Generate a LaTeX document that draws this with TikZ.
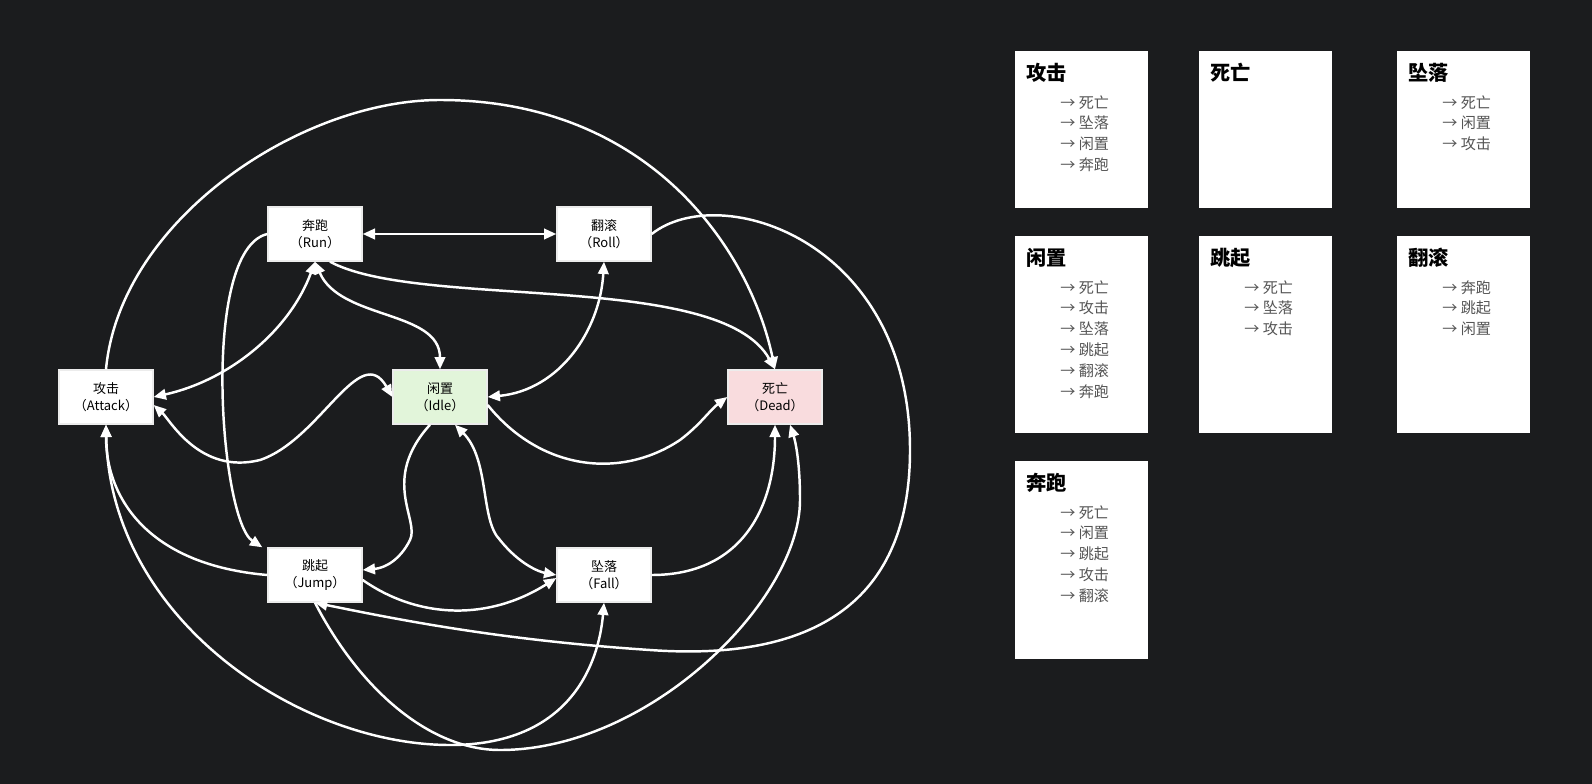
\documentclass[tikz,border=0pt]{standalone}
\usepackage{fontspec}
\setmainfont{Noto Sans CJK SC}
\usetikzlibrary{arrows.meta}
\definecolor{bg}{HTML}{1B1C1E}
\definecolor{idlec}{HTML}{E2F5DA}
\definecolor{deadc}{HTML}{F9DCDE}
\definecolor{itemc}{HTML}{555555}
\begin{document}
\begin{tikzpicture}[x=0.02cm,y=-0.02cm,
  st/.style={draw=white!85!gray,line width=0.8pt,fill=white,minimum width=94*0.02cm,minimum height=54*0.02cm,inner sep=0pt,align=center,font=\fontsize{7.4pt}{9.5pt}\selectfont,text=black},
  e/.style={draw=white,line width=1.4pt,-{Triangle[length=7pt,width=6pt]}},
  ee/.style={draw=white,line width=1.4pt,{Triangle[length=7pt,width=6pt]}-{Triangle[length=7pt,width=6pt]}},
  card/.style={fill=white,draw=none},
  ttl/.style={anchor=north west,font=\fontsize{11.5pt}{13pt}\selectfont\bfseries,text=black,inner sep=0pt},
  itm/.style={anchor=north west,font=\fontsize{8.6pt}{11.9pt}\selectfont,text=itemc,inner sep=0pt,align=left}]
\fill[bg] (0,0) rectangle (1592,784);
\useasboundingbox (0,0) rectangle (1592,784);
\node[st] (run) at (315,234) {奔跑\\（Run）};
\node[st] (roll) at (604,234) {翻滚\\（Roll）};
\node[st] (atk) at (106,397) {攻击\\（Attack）};
\node[st,fill=idlec] (idle) at (440,397) {闲置\\（Idle）};
\node[st,fill=deadc] (dead) at (775,397) {死亡\\（Dead）};
\node[st] (jump) at (315,575) {跳起\\（Jump）};
\node[st] (fall) at (604,575) {坠落\\（Fall）};
% edges
\draw[ee] (run.east) -- (roll.west);
\draw[ee] (run.south) .. controls (290,330) and (230,380) .. (atk.east);
\draw[ee] (run.south) .. controls (340,320) and (440,310) .. (idle.north);
\draw[e] ([xshift=15*0.02cm]run.south) .. controls (420,310) and (720,270) .. (dead.north);
\draw[e] (run.west) .. controls (200,250) and (220,520) .. ([xshift=-0.1cm]jump.north west);
\draw[ee] (idle.west) .. controls (360,340) and (320,440) .. (260,460) .. controls (200,475) and (170,420) .. (atk.east|-0,405);
\draw[e] (atk.north) .. controls (120,220) and (300,100) .. (440,100) .. controls (650,100) and (750,250) .. (dead.north);
\draw[e] (jump.west) .. controls (150,565) and (106,500) .. (atk.south);
\draw[ee] (atk.south) .. controls (110,620) and (300,745) .. (450,745) .. controls (580,745) and (600,650) .. (fall.south);
\draw[ee] (roll.south) .. controls (600,330) and (560,390) .. (idle.east);
\draw[e] (roll.east) .. controls (720,180) and (910,240) .. (910,450) .. controls (910,620) and (790,660) .. (650,650) .. controls (500,640) and (400,620) .. (jump.south);
\draw[e] (idle.east|-0,405) .. controls (540,470) and (620,480) .. (680,440) .. controls (700,425) and (710,410) .. (dead.west);
\draw[e] ([xshift=-10*0.02cm]idle.south) .. controls (380,480) and (420,520) .. (410,540) .. controls (400,560) and (385,568) .. (jump.east|-0,570);
\draw[ee] ([xshift=15*0.02cm]idle.south) .. controls (490,460) and (480,520) .. (500,540) .. controls (520,565) and (540,572) .. (fall.west);
\draw[e] (jump.east|-0,580) .. controls (420,620) and (490,620) .. (fall.west|-0,578);
\draw[e] (fall.east) .. controls (740,575) and (775,510) .. (dead.south);
\draw[e] (jump.south) .. controls (360,690) and (430,750) .. (500,750) .. controls (650,750) and (800,600) .. (800,500) .. controls (800,460) and (795,440) .. ([xshift=15*0.02cm]dead.south);
% cards
\newcommand{\crd}[5]{\fill[card] (#1,#2) rectangle ++(133,#3);
  \node[ttl] at (#1+11,#2+12) {#4};
  \node[itm] at (#1+45,#2+44) {#5};}
\crd{1015}{51}{157}{攻击}{→ 死亡\\→ 坠落\\→ 闲置\\→ 奔跑}
\crd{1199}{51}{157}{死亡}{}
\crd{1397}{51}{157}{坠落}{→ 死亡\\→ 闲置\\→ 攻击}
\crd{1015}{236}{197}{闲置}{→ 死亡\\→ 攻击\\→ 坠落\\→ 跳起\\→ 翻滚\\→ 奔跑}
\crd{1199}{236}{197}{跳起}{→ 死亡\\→ 坠落\\→ 攻击}
\crd{1397}{236}{197}{翻滚}{→ 奔跑\\→ 跳起\\→ 闲置}
\crd{1015}{461}{198}{奔跑}{→ 死亡\\→ 闲置\\→ 跳起\\→ 攻击\\→ 翻滚}
\end{tikzpicture}
\end{document}
